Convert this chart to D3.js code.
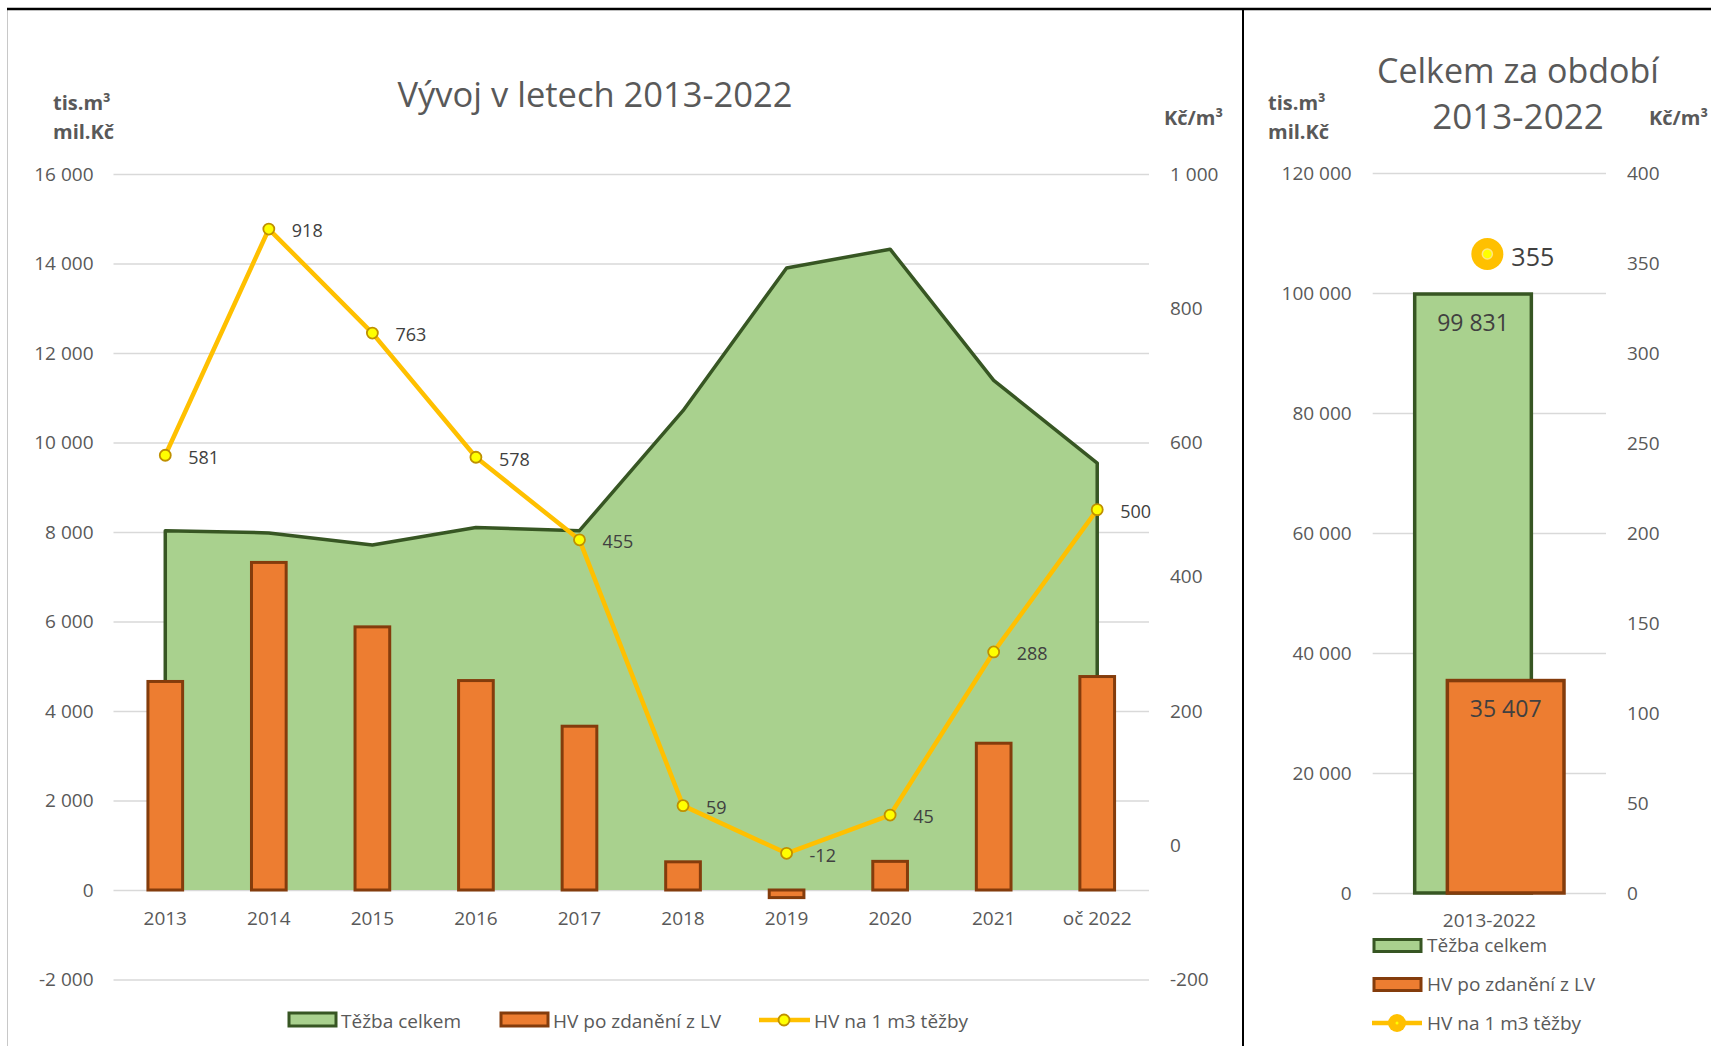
<!DOCTYPE html>
<html>
<head>
<meta charset="utf-8">
<script src="https://cdn.jsdelivr.net/npm/d3@7"></script>
<style>
  body { margin: 0; background: #fff; }
  svg { display: block; font-family: "Open Sans", sans-serif; }
</style>
</head>
<body>
<svg></svg>
<script>
// data
var years = ['2013', '2014', '2015', '2016', '2017', '2018', '2019', '2020', '2021', 'oč 2022'];
var tezba = [8030, 7980, 7710, 8100, 8030, 10710, 13900, 14320, 11390, 9540];      // tis. m3
var hvLV = [4660, 7320, 5880, 4680, 3660, 630, -170, 640, 3280, 4770];            // mil. Kč
var hvNaM3 = [581, 918, 763, 578, 455, 59, -12, 45, 288, 500];                    // Kč/m3

var totalCat = ['2013-2022'];
var totalTezba = [99831];
var totalHv = [35407];
var totalNaM3 = [355];

var leftTicks = [-2000, 0, 2000, 4000, 6000, 8000, 10000, 12000, 14000, 16000];
var rightTicks = [-200, 0, 200, 400, 600, 800, 1000];
var totLeftTicks = [0, 20000, 40000, 60000, 80000, 100000, 120000];
var totRightTicks = [0, 50, 100, 150, 200, 250, 300, 350, 400];

var seriesNames = ['Těžba celkem', 'HV po zdanění z LV', 'HV na 1 m3 těžby'];

var cGreen = '#A9D18E', cGreenDark = '#375623';
var cOrange = '#ED7D31', cOrangeDark = '#843C0C';
var cGold = '#FFC000', cYellow = '#FFFF00', cGoldDark = '#BF9000';
var cText = '#595959', cLabel = '#404040', cGrid = '#D9D9D9';

var W = 1711, H = 1046;
var svg = d3.select('svg').attr('width', W).attr('height', H);

var loc = d3.formatLocale({ decimal: ',', thousands: '\u00a0', grouping: [3], currency: ['', ''], minus: '-' });
var fmt = loc.format(',d');

// frame
svg.append('line').attr('x1', 7.5).attr('x2', 7.5).attr('y1', 9).attr('y2', H)
   .attr('stroke', '#C8C8C8').attr('stroke-width', 1);
svg.append('line').attr('x1', 7).attr('x2', W).attr('y1', 9).attr('y2', 9)
   .attr('stroke', '#000').attr('stroke-width', 2.5);
svg.append('line').attr('x1', 1243).attr('x2', 1243).attr('y1', 9).attr('y2', H)
   .attr('stroke', '#000').attr('stroke-width', 2);

// ---------- left chart ----------
var x = d3.scaleBand().domain(years).range([113.5, 1149]);
var yL = d3.scaleLinear().domain([-2000, 16000]).range([979.5, 174]);
var yR = d3.scaleLinear().domain([-200, 1000]).range([979.5, 174]);

var gL = svg.append('g')
   .attr('transform', 'translate(113.5,0)')
   .call(d3.axisLeft(yL).tickValues(leftTicks).tickSize(-(1149 - 113.5)).tickPadding(20).tickFormat(fmt));
gL.select('.domain').remove();
gL.selectAll('line').attr('stroke', cGrid).attr('stroke-width', 1.5);
gL.selectAll('text').attr('fill', cText).style('font-size', '19px').style('font-family', 'Open Sans');

var gR = svg.append('g')
   .attr('transform', 'translate(1149,0)')
   .call(d3.axisRight(yR).tickValues(rightTicks).tickSize(0).tickPadding(21).tickFormat(fmt));
gR.select('.domain').remove();
gR.selectAll('text').attr('fill', cText).style('font-size', '19px').style('font-family', 'Open Sans');

var cx = function (d) { return x(d) + x.bandwidth() / 2; };

// area
var area = d3.area()
   .x(function (d, i) { return cx(years[i]); })
   .y0(yL(0))
   .y1(function (d) { return yL(d); });
svg.append('path').datum(tezba).attr('d', area).attr('fill', cGreen);

var outline = d3.line()
   .x(function (d) { return cx(d.k); })
   .y(function (d) { return yL(d.v); });
var outPts = [{ k: years[0], v: 0 }]
   .concat(tezba.map(function (d, i) { return { k: years[i], v: d }; }))
   .concat([{ k: years[years.length - 1], v: 0 }]);
svg.append('path').datum(outPts).attr('d', outline)
   .attr('fill', 'none').attr('stroke', cGreenDark).attr('stroke-width', 3.5).attr('stroke-linejoin', 'round');

// bars
var bw = x.bandwidth() * 0.335;
svg.append('g').selectAll('rect')
   .data(hvLV)
   .enter()
   .append('rect')
   .attr('x', function (d, i) { return cx(years[i]) - bw / 2; })
   .attr('y', function (d) { return yL(Math.max(0, d)); })
   .attr('width', bw)
   .attr('height', function (d) { return Math.abs(yL(d) - yL(0)); })
   .attr('fill', cOrange)
   .attr('stroke', cOrangeDark)
   .attr('stroke-width', 3);

// line
var line = d3.line()
   .x(function (d, i) { return cx(years[i]); })
   .y(function (d) { return yR(d); });
svg.append('path').datum(hvNaM3).attr('d', line)
   .attr('fill', 'none').attr('stroke', cGold).attr('stroke-width', 4.5).attr('stroke-linejoin', 'round');

svg.append('g').selectAll('circle')
   .data(hvNaM3)
   .enter()
   .append('circle')
   .attr('cx', function (d, i) { return cx(years[i]); })
   .attr('cy', function (d) { return yR(d); })
   .attr('r', 5.5)
   .attr('fill', cYellow)
   .attr('stroke', cGoldDark)
   .attr('stroke-width', 1.8);

svg.append('g').selectAll('text')
   .data(hvNaM3)
   .enter()
   .append('text')
   .attr('x', function (d, i) { return cx(years[i]) + 23; })
   .attr('y', function (d) { return yR(d) + 2; })
   .attr('dy', '0.35em')
   .attr('fill', cLabel)
   .style('font-size', '18px')
   .text(function (d) { return fmt(d); });

// category labels
svg.append('g').selectAll('text')
   .data(years)
   .enter()
   .append('text')
   .attr('x', cx)
   .attr('y', 918)
   .attr('dy', '0.35em')
   .attr('text-anchor', 'middle')
   .attr('fill', cText)
   .style('font-size', '19px')
   .text(function (d) { return d; });

// titles
svg.append('text').attr('x', 595).attr('y', 107).attr('text-anchor', 'middle')
   .attr('fill', cText).style('font-size', '34.5px').text('Vývoj v letech 2013-2022');

function unitTitle(xp, lines) {
   var t = svg.append('text').attr('fill', cText).style('font-size', '20px').style('font-weight', 'bold');
   lines.forEach(function (s, i) {
      t.append('tspan').attr('x', xp).attr('y', lines.length === 1 ? 125 : 110 + i * 29).text(s);
   });
}
unitTitle(53, ['tis.m³', 'mil.Kč']);
unitTitle(1164, ['Kč/m³']);

// legend left
var legL = svg.append('g').attr('transform', 'translate(0,1020)');
legL.append('rect').attr('x', 289).attr('y', -7).attr('width', 47).attr('height', 13)
   .attr('fill', cGreen).attr('stroke', cGreenDark).attr('stroke-width', 3);
legL.append('rect').attr('x', 501).attr('y', -7).attr('width', 47).attr('height', 13)
   .attr('fill', cOrange).attr('stroke', cOrangeDark).attr('stroke-width', 3);
legL.append('line').attr('x1', 759).attr('x2', 810).attr('y1', 0).attr('y2', 0)
   .attr('stroke', cGold).attr('stroke-width', 4.5);
legL.append('circle').attr('cx', 784).attr('cy', 0).attr('r', 5.5)
   .attr('fill', cYellow).attr('stroke', cGoldDark).attr('stroke-width', 1.8);
legL.selectAll('text.lg')
   .data([341, 553, 814])
   .enter()
   .append('text')
   .attr('x', function (d) { return d; })
   .attr('y', 1)
   .attr('dy', '0.35em')
   .attr('fill', cText)
   .style('font-size', '19px')
   .text(function (d, i) { return seriesNames[i]; });

// ---------- right chart ----------
var x2 = d3.scaleBand().domain(totalCat).range([1372.7, 1606]);
var y2L = d3.scaleLinear().domain([0, 120000]).range([893, 173]);
var y2R = d3.scaleLinear().domain([0, 400]).range([893, 173]);

var g2L = svg.append('g')
   .attr('transform', 'translate(1372.7,0)')
   .call(d3.axisLeft(y2L).tickValues(totLeftTicks).tickSize(-(1606 - 1372.7)).tickPadding(21).tickFormat(fmt));
g2L.select('.domain').remove();
g2L.selectAll('line').attr('stroke', cGrid).attr('stroke-width', 1.5);
g2L.selectAll('text').attr('fill', cText).style('font-size', '19px').style('font-family', 'Open Sans');

var g2R = svg.append('g')
   .attr('transform', 'translate(1606,0)')
   .call(d3.axisRight(y2R).tickValues(totRightTicks).tickSize(0).tickPadding(21).tickFormat(fmt));
g2R.select('.domain').remove();
g2R.selectAll('text').attr('fill', cText).style('font-size', '19px').style('font-family', 'Open Sans');

var bw2 = x2.bandwidth() * 0.5;
var off2 = x2.bandwidth() * 0.07;
var cx2 = x2(totalCat[0]) + x2.bandwidth() / 2;

svg.append('g').selectAll('rect')
   .data(totalTezba)
   .enter()
   .append('rect')
   .attr('x', cx2 - off2 - bw2 / 2)
   .attr('y', function (d) { return y2L(d); })
   .attr('width', bw2)
   .attr('height', function (d) { return y2L(0) - y2L(d); })
   .attr('fill', cGreen).attr('stroke', cGreenDark).attr('stroke-width', 3.5);

svg.append('g').selectAll('rect')
   .data(totalHv)
   .enter()
   .append('rect')
   .attr('x', cx2 + off2 - bw2 / 2)
   .attr('y', function (d) { return y2L(d); })
   .attr('width', bw2)
   .attr('height', function (d) { return y2L(0) - y2L(d); })
   .attr('fill', cOrange).attr('stroke', cOrangeDark).attr('stroke-width', 3.5);

svg.append('text').datum(totalTezba[0])
   .attr('x', cx2 - off2).attr('y', function (d) { return y2L(d) + 29; }).attr('dy', '0.35em')
   .attr('text-anchor', 'middle').attr('fill', cLabel).style('font-size', '23px')
   .text(fmt);
svg.append('text').datum(totalHv[0])
   .attr('x', cx2 + off2).attr('y', function (d) { return y2L(d) + 28; }).attr('dy', '0.35em')
   .attr('text-anchor', 'middle').attr('fill', cLabel).style('font-size', '23px')
   .text(fmt);

svg.append('circle').datum(totalNaM3[0])
   .attr('cx', cx2 - 2).attr('cy', function (d) { return y2R(d); }).attr('r', 16)
   .attr('fill', cGold);
svg.append('circle').datum(totalNaM3[0])
   .attr('cx', cx2 - 2).attr('cy', function (d) { return y2R(d); }).attr('r', 5)
   .attr('fill', cYellow).attr('stroke', '#FFE680').attr('stroke-width', 1.5);
svg.append('text').datum(totalNaM3[0])
   .attr('x', cx2 + 22).attr('y', function (d) { return y2R(d) + 3; }).attr('dy', '0.35em')
   .attr('fill', cLabel).style('font-size', '25px')
   .text(fmt);

svg.append('text').attr('x', cx2).attr('y', 920).attr('dy', '0.35em').attr('text-anchor', 'middle')
   .attr('fill', cText).style('font-size', '19px').text(totalCat[0]);

svg.append('text').attr('x', 1518).attr('y', 83).attr('text-anchor', 'middle')
   .attr('fill', cText).style('font-size', '34px').text('Celkem za období');
svg.append('text').attr('x', 1518).attr('y', 129).attr('text-anchor', 'middle')
   .attr('fill', cText).style('font-size', '35px').text('2013-2022');

unitTitle(1268, ['tis.m³', 'mil.Kč']);
unitTitle(1649, ['Kč/m³']);

// legend right (stacked)
var legR = svg.append('g');
legR.append('rect').attr('x', 1374).attr('y', 939.5).attr('width', 47).attr('height', 12)
   .attr('fill', cGreen).attr('stroke', cGreenDark).attr('stroke-width', 3);
legR.append('rect').attr('x', 1374).attr('y', 978.5).attr('width', 47).attr('height', 12)
   .attr('fill', cOrange).attr('stroke', cOrangeDark).attr('stroke-width', 3);
legR.append('line').attr('x1', 1372).attr('x2', 1422).attr('y1', 1023).attr('y2', 1023)
   .attr('stroke', cGold).attr('stroke-width', 4.5);
legR.append('circle').attr('cx', 1397).attr('cy', 1023).attr('r', 9).attr('fill', cGold);
legR.append('circle').attr('cx', 1397).attr('cy', 1023).attr('r', 1.5).attr('fill', cYellow);
legR.selectAll('text')
   .data([945.5, 984.5, 1023])
   .enter()
   .append('text')
   .attr('x', 1427)
   .attr('y', function (d) { return d; })
   .attr('dy', '0.35em')
   .attr('fill', cText)
   .style('font-size', '19px')
   .text(function (d, i) { return seriesNames[i]; });
</script>
</body>
</html>
